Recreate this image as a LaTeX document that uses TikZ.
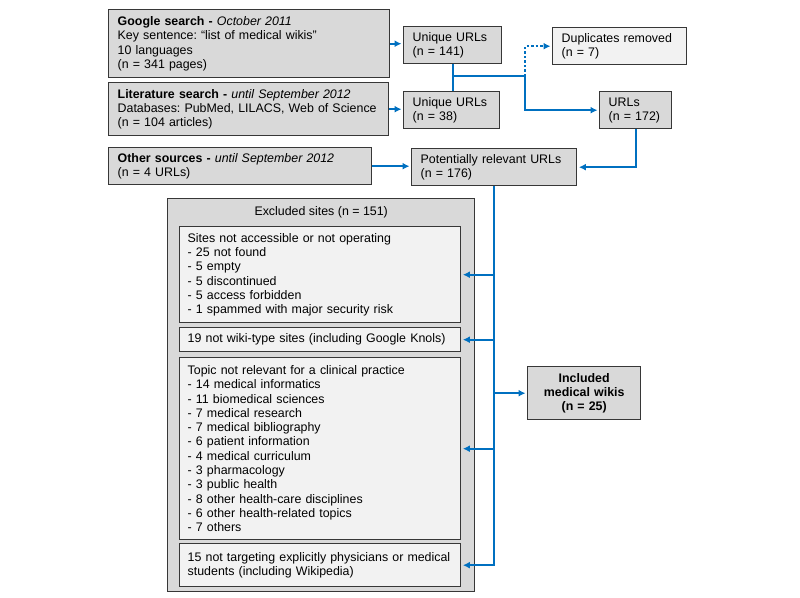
\documentclass[tikz,border=0pt]{standalone}
\usepackage{fontspec}
\setmainfont{Liberation Sans}
\usetikzlibrary{arrows.meta,positioning}
\frenchspacing
\hyphenpenalty=10000

\definecolor{flowblue}{RGB}{0,112,192}
\definecolor{boxgray}{RGB}{217,217,217}
\definecolor{boxlight}{RGB}{242,242,242}
\definecolor{boxline}{RGB}{55,55,55}

\begin{document}
\begin{tikzpicture}[x=1pt,y=-1pt,
  font=\fontsize{12.4}{14.3}\selectfont,
  box/.style={draw=boxline,line width=1.4pt,fill=boxgray,anchor=north west,
    align=left,inner xsep=9pt,inner ysep=3pt},
  subbox/.style={box,fill=boxlight},
  flow/.style={draw=flowblue,line width=2.4pt,-{Latex[length=7pt,width=7pt]},shorten >=1.5pt},
  link/.style={draw=flowblue,line width=2.4pt}]

\useasboundingbox (0,0) rectangle (800,597);

% sources
\node[box,text width=263pt,minimum height=68pt] (google) at (108,9)
  {\textbf{Google search -} \textit{October 2011}\\Key sentence: “list of medical wikis”\\10 languages\\(n = 341 pages)};
\node[box,text width=262pt,minimum height=53pt] (lit) at (108,82)
  {\textbf{Literature search -} \textit{until September 2012}\\Databases: PubMed, LILACS, Web of Science\\(n = 104 articles)};
\node[box,text width=245pt,minimum height=37pt] (other) at (108,147)
  {\textbf{Other sources -} \textit{until September 2012}\\(n = 4 URLs)};

% merging
\node[box,text width=80pt,minimum height=37pt] (uniq1) at (403,26) {Unique URLs\\(n = 141)};
\node[box,text width=78pt,minimum height=37pt] (uniq2) at (403,91) {Unique URLs\\(n = 38)};
\node[subbox,text width=116pt,minimum height=37pt] (dup) at (552,27) {Duplicates removed\\(n = 7)};
\node[box,text width=54pt,minimum height=37pt] (urls) at (599,91) {URLs\\(n = 172)};
\node[box,text width=147pt,minimum height=37pt] (potential) at (411,148) {Potentially relevant URLs\\(n = 176)};

% exclusions
\node[box,minimum width=307pt,minimum height=393pt,
  label={[name=excltitle,anchor=center,yshift=-14pt]north:Excluded sites (n = 151)}] (excl) at (167,198) {};
\node[subbox,inner xsep=8pt,text width=265pt,minimum height=96pt] (in1) at (179,226)
  {Sites not accessible or not operating\\- 25 not found\\- 5 empty\\- 5 discontinued\\- 5 access forbidden\\- 1 spammed with major security risk};
\node[subbox,inner xsep=8pt,text width=265pt,minimum height=24pt] (in2) at (179,327)
  {19 not wiki-type sites (including Google Knols)};
\node[subbox,inner xsep=8pt,text width=265pt,minimum height=182pt] (in3) at (179,357)
  {Topic not relevant for a clinical practice\\- 14 medical informatics\\- 11 biomedical sciences\\- 7 medical research\\- 7 medical bibliography\\- 6 patient information\\- 4 medical curriculum\\- 3 pharmacology\\- 3 public health\\- 8 other health-care disciplines\\- 6 other health-related topics\\- 7 others};
\node[subbox,inner xsep=8pt,text width=265pt,minimum height=43pt] (in4) at (179,543)
  {15 not targeting explicitly physicians or medical\\students (including Wikipedia)};

\node[box,text width=95pt,minimum height=53pt,align=center] (incl) at (527,366)
  {\textbf{Included}\\\textbf{medical wikis}\\\textbf{(n = 25)}};

% connectors
\draw[flow] (google.east) -- (google.east -| uniq1.west);
\draw[flow] (lit.east) -- (lit.east -| uniq2.west);
\draw[flow] (other.east) -- (other.east -| potential.west);
\coordinate (split) at (525,76);
\draw[link] (uniq1.south) -- (uniq1.south |- uniq2.north);
\draw[link] (uniq1.south |- split) -- (split);
\draw[flow,dash pattern=on 2.5pt off 2pt] (split) |- (dup.west);
\draw[flow] (split) |- (urls.west);
\draw[flow] (urls.south) |- (potential.east);
\draw[flow] (potential.south) |- (in4.east);
\foreach \target in {in1,in2,in3}
  \draw[flow] (potential.south |- \target.east) -- (\target.east);
\draw[flow] (potential.south |- incl.west) -- (incl.west);

\end{tikzpicture}
\end{document}
